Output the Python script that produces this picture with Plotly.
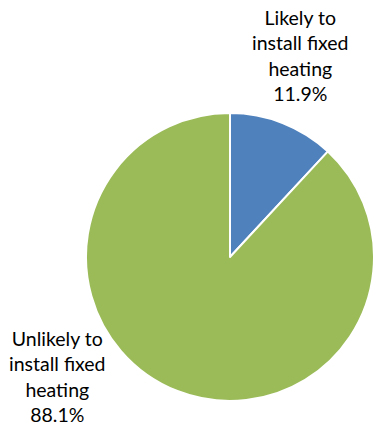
import plotly.graph_objects as go

# Survey split: intention to install fixed heating
categories = ["Likely to<br>install fixed<br>heating", "Unlikely to<br>install fixed<br>heating"]
shares = [11.9, 88.1]
colors = ["#4F81BD", "#9BBB59"]

W, H = 374, 428

fig = go.Figure(
    go.Pie(
        labels=categories,
        values=shares,
        marker=dict(colors=colors, line=dict(color="white", width=2)),
        sort=False,
        direction="clockwise",
        rotation=0,
        textinfo="none",
        hoverinfo="label+percent",
        showlegend=False,
        domain=dict(x=[86 / W, 1.0], y=[26 / H, 316 / H]),
    )
)

# Data labels placed beside each slice
label_font = dict(family="Lato, Calibri, sans-serif", size=19.5, color="#000000")
fig.add_annotation(
    x=300 / W, y=1 - 4 / H, xref="paper", yref="paper",
    xanchor="center", yanchor="top", showarrow=False, align="center",
    text=f"{categories[0]}<br>{shares[0]:.1f}%", font=label_font,
)
fig.add_annotation(
    x=57 / W, y=0, xref="paper", yref="paper",
    xanchor="center", yanchor="bottom", showarrow=False, align="center",
    text=f"{categories[1]}<br>{shares[1]:.1f}%", font=label_font,
)

fig.update_layout(
    width=W, height=H, autosize=False,
    margin=dict(l=0, r=0, t=0, b=0),
    paper_bgcolor="white", plot_bgcolor="white",
)

fig.write_html("out.html")
